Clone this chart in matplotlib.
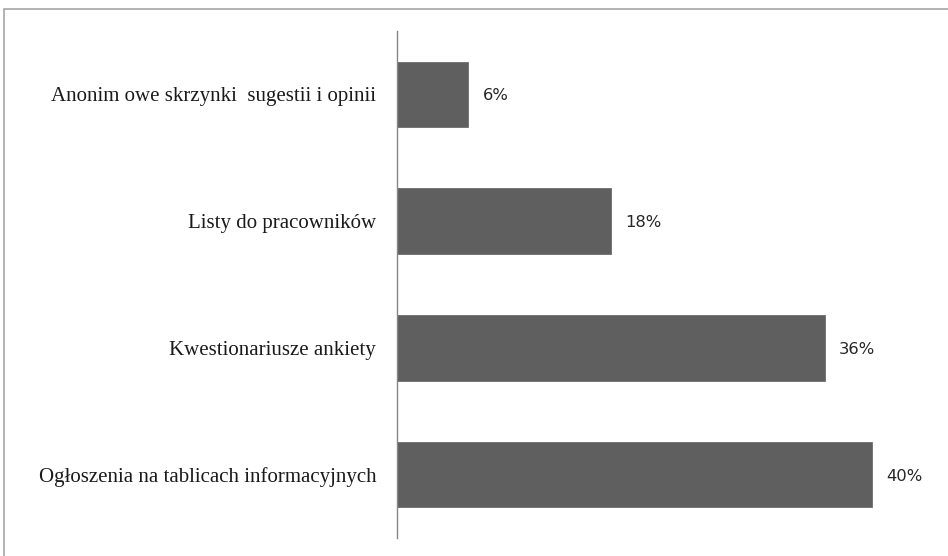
import matplotlib
matplotlib.use("Agg")
import matplotlib.pyplot as plt
from matplotlib.patches import Rectangle

categories = [
    "Anonim owe skrzynki  sugestii i opinii",
    "Listy do pracowników",
    "Kwestionariusze ankiety",
    "Ogłoszenia na tablicach informacyjnych",
]
values = [6, 18, 36, 40]
value_labels = ["6%", "18%", "36%", "40%"]

W, H = 948, 556
fig = plt.figure(figsize=(W / 100, H / 100), dpi=100)
fig.patch.set_facecolor("white")

# chart-area frame (runs off the right and bottom edges)
fig.add_artist(Rectangle((4 / W, -0.05), 1.2, 1 - 9 / H + 0.05,
                         transform=fig.transFigure, fill=False,
                         edgecolor="#a6a6a6", linewidth=1.2))

left, right = 397 / W, (397 + 45 * 11.875) / W
top, bottom = 1 - 31 / H, 1 - 538 / H
ax = fig.add_axes([left, bottom, right - left, top - bottom])

y = list(range(len(categories)))
ax.barh(y, values, height=0.515, color="#5f5f5f", edgecolor="#5f5f5f", linewidth=0.5)
ax.set_xlim(0, 45)
ax.set_ylim(len(categories) - 0.5, -0.5)

for yi, v, lab in zip(y, values, value_labels):
    ax.annotate(lab, (v, yi), xytext=(10.5, -1), textcoords="offset points",
                ha="left", va="center", fontsize=11.8, family="DejaVu Sans", color="#262626")

ax.set_yticks(y)
ax.set_yticklabels(categories, family="Liberation Serif", fontsize=15, color="#1a1a1a")
ax.tick_params(axis="y", length=0, pad=15)
ax.set_xticks([])
for s in ["top", "right", "bottom"]:
    ax.spines[s].set_visible(False)
ax.spines["left"].set_color("#868686")
ax.spines["left"].set_linewidth(1.0)
ax.set_facecolor("none")

fig.savefig("out.png", dpi=100, facecolor="white")
